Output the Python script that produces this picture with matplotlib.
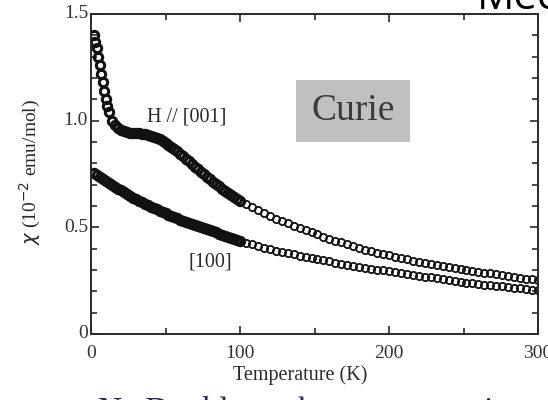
import matplotlib.pyplot as plt
from matplotlib.patches import Rectangle
from matplotlib.ticker import MultipleLocator

# Nhiệt độ (K) và độ cảm từ chi (10^-2 emu/mol) cho hai hướng từ trường
T_001 = [2, 3, 4, 5, 6, 7, 8, 9, 10, 11, 12, 14, 16, 18, 20, 22, 24, 26, 28, 30,
         32, 34, 36, 38, 40, 42, 44, 46, 48, 50, 52, 54, 56, 58, 60, 62, 64, 66, 68, 70,
         72, 74, 76, 78, 80, 82, 84, 86, 88, 90, 92, 94, 96, 98, 100,
         104, 108, 112, 116, 120, 124, 128, 132, 136, 140, 144, 148, 152, 156, 160,
         164, 168, 172, 176, 180, 184, 188, 192, 196, 200, 204, 208, 212, 216, 220,
         224, 228, 232, 236, 240, 244, 248, 252, 256, 260, 264, 268, 272, 276, 280,
         284, 288, 292, 296, 300]
chi_001 = [1.40, 1.37, 1.34, 1.30, 1.26, 1.22, 1.18, 1.14, 1.10, 1.07, 1.04, 1.00, 0.98, 0.965, 0.955,
           0.95, 0.945, 0.942, 0.94, 0.94, 0.94, 0.938, 0.936, 0.933, 0.93, 0.925, 0.92, 0.913,
           0.905, 0.897, 0.888, 0.878, 0.867, 0.856, 0.845, 0.833, 0.821, 0.809, 0.797, 0.785,
           0.773, 0.761, 0.749, 0.737, 0.725, 0.714, 0.703, 0.692, 0.681, 0.671, 0.661, 0.651,
           0.642, 0.633, 0.625,
           0.609, 0.594, 0.580, 0.567, 0.554, 0.541, 0.530, 0.519, 0.508, 0.497, 0.487, 0.477,
           0.467, 0.457, 0.447, 0.438, 0.429, 0.420, 0.411, 0.403, 0.395, 0.388, 0.381, 0.374,
           0.368, 0.362, 0.356, 0.350, 0.344, 0.338, 0.333, 0.328, 0.323, 0.318, 0.313, 0.308,
           0.304, 0.300, 0.296, 0.292, 0.288, 0.284, 0.280, 0.276, 0.272, 0.268, 0.264, 0.260,
           0.257, 0.253]

T_100 = [2, 4, 6, 8, 10, 12, 14, 16, 18, 20, 22, 24, 26, 28, 30, 32, 34, 36, 38, 40,
         42, 44, 46, 48, 50, 52, 54, 56, 58, 60, 62, 64, 66, 68, 70, 72, 74, 76, 78, 80,
         82, 84, 86, 88, 90, 92, 94, 96, 98, 100,
         104, 108, 112, 116, 120, 124, 128, 132, 136, 140, 144, 148, 152, 156, 160,
         164, 168, 172, 176, 180, 184, 188, 192, 196, 200, 204, 208, 212, 216, 220,
         224, 228, 232, 236, 240, 244, 248, 252, 256, 260, 264, 268, 272, 276, 280,
         284, 288, 292, 296, 300]
chi_100 = [0.755, 0.745, 0.736, 0.727, 0.718, 0.709, 0.700, 0.691, 0.682, 0.673, 0.664, 0.655,
           0.646, 0.639, 0.632, 0.625, 0.618, 0.611, 0.604, 0.597, 0.590, 0.584, 0.578, 0.572,
           0.566, 0.560, 0.554, 0.548, 0.542, 0.536, 0.531, 0.526, 0.521, 0.516, 0.511, 0.506,
           0.501, 0.496, 0.491, 0.486, 0.481, 0.476, 0.471, 0.466, 0.461, 0.456, 0.451, 0.446,
           0.441, 0.436,
           0.428, 0.420, 0.412, 0.405, 0.398, 0.391, 0.385, 0.379, 0.373, 0.367, 0.361, 0.356,
           0.350, 0.345, 0.340, 0.335, 0.330, 0.325, 0.320, 0.315, 0.310, 0.306, 0.302, 0.298,
           0.294, 0.289, 0.285, 0.281, 0.277, 0.273, 0.269, 0.265, 0.261, 0.257, 0.253, 0.249,
           0.245, 0.241, 0.238, 0.235, 0.232, 0.229, 0.226, 0.223, 0.220, 0.217, 0.214, 0.211,
           0.208, 0.206]

serif = ['Liberation Serif', 'DejaVu Serif']
ink = '#2a2a2a'

fig = plt.figure(figsize=(5.48, 4.0), dpi=100)
ax = fig.add_axes([91 / 548, 66 / 400, 447 / 548, 320 / 400])

# Hai đường đo: vòng tròn rỗng; dưới 100 K các điểm sát nhau nên vẽ nét dày hơn
for T, chi in [(T_001, chi_001), (T_100, chi_100)]:
    lo = [i for i, t in enumerate(T) if t <= 100]
    hi = [i for i, t in enumerate(T) if t > 100]
    ax.plot([T[i] for i in lo], [chi[i] for i in lo], 'o', ms=6, mfc='none', mec='#111111', mew=2.2)
    ax.plot([T[i] for i in hi], [chi[i] for i in hi], 'o', ms=5.2, mfc='none', mec='#111111', mew=1.3)

ax.set_xlim(0, 300)
ax.set_ylim(0, 1.5)
ax.xaxis.set_major_locator(MultipleLocator(100))
ax.xaxis.set_minor_locator(MultipleLocator(50))
ax.yaxis.set_major_locator(MultipleLocator(0.5))
ax.yaxis.set_minor_locator(MultipleLocator(0.1))
ax.set_xticklabels([])
ax.set_yticklabels([])
ax.tick_params(which='both', direction='in', top=True, right=True, color=ink, width=1.2)
ax.tick_params(which='major', length=6)
ax.tick_params(which='minor', length=4)
for s in ax.spines.values():
    s.set_linewidth(1.4)
    s.set_color(ink)

# Nhãn trục viết tay bằng text để giữ vị trí
for v, lab in zip([0, 100, 200, 300], ['0', '100', '200', '300']):
    ax.text(v, -0.05, lab, ha='center', va='top', fontsize=14, family=serif, color='#333333')
for v, lab in zip([0, 0.5, 1.0, 1.5], ['0', '0.5', '1.0', '1.5']):
    ax.text(-2, v, lab, ha='right', va='center', fontsize=14, family=serif, color='#333333')

fig.text(300 / 548, 1 - 375 / 400, 'Temperature (K)', ha='center', va='center',
         fontsize=14.5, family=serif, color=ink)
fig.text(30 / 548, 1 - 172 / 400, r'$\chi$ (10$^{-2}$ emu/mol)', ha='center', va='center',
         rotation=90, fontsize=14, family=serif, color=ink)

ax.text(64, 1.017, 'H // [001]', ha='center', va='center', fontsize=14.5, family=serif, color=ink)
ax.text(80, 0.338, '[100]', ha='center', va='center', fontsize=14.5, family=serif, color=ink)

# Hộp "Curie"
ax.add_patch(Rectangle((137.6, 0.90), 76.4, 0.29, facecolor='#c0c0c0', edgecolor='none'))
ax.text(176, 1.045, 'Curie', ha='center', va='center', fontsize=27, family=serif, color='#3a3a3a')

# Chữ của slide bị cắt ở mép trên và dưới
fig.text(477 / 548, 1 - 9 / 400, 'Mec', ha='left', va='baseline', fontsize=30,
         family='Open Sans', color='black')
fig.text(98 / 548, -20 / 400, 'Na Double exchange magnetism', ha='left', va='baseline',
         fontsize=24, family=serif, color='#1f2a5c')

plt.savefig('out.png', dpi=100)
